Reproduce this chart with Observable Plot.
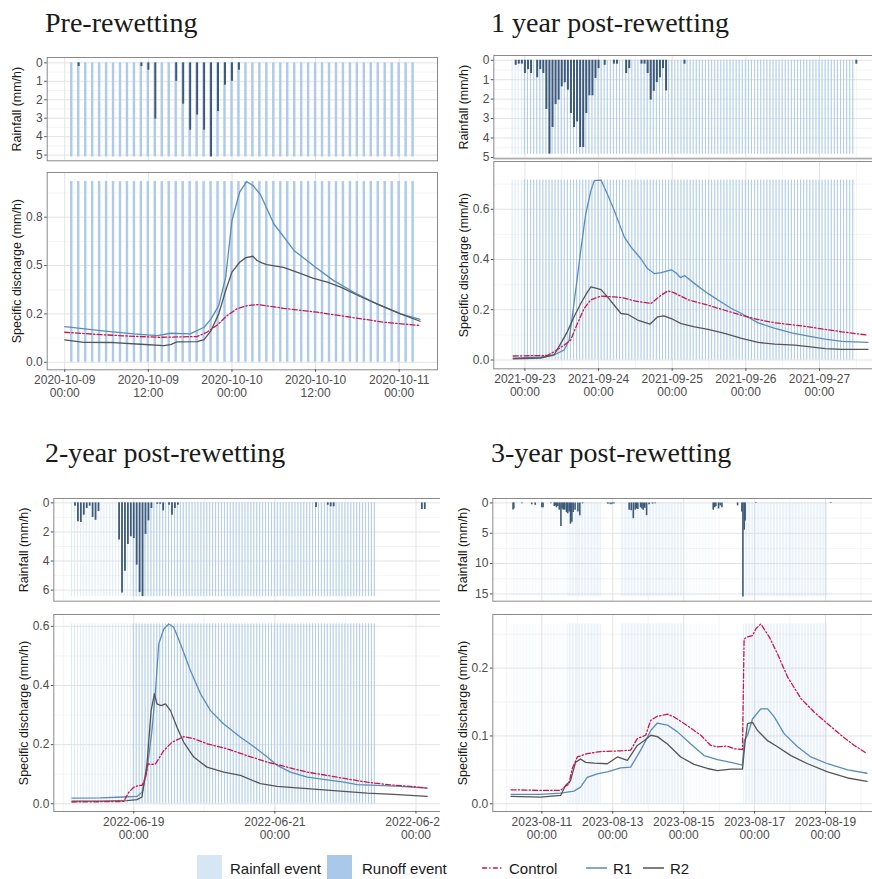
<!DOCTYPE html>
<html><head><meta charset="utf-8">
<script src="https://cdn.jsdelivr.net/npm/d3@7"></script>
<script src="https://cdn.jsdelivr.net/npm/@observablehq/plot@0.6"></script>
<style>
html,body{margin:0;padding:0;background:#fff;}
#root{position:relative;width:872px;height:879px;overflow:hidden;background:#fff;}
</style></head><body><div id="root"></div>
<script>
// ---------- Panel titles ----------
const panelTitles = ["Pre-rewetting", "1 year post-rewetting", "2-year post-rewetting", "3-year post-rewetting"];
const seriesNames = ["Control", "R1", "R2"];
const legendEvents = ["Rainfall event", "Runoff event"];

// ---------- Panel 1 (hours from 2020-10-09 00:00) ----------
const p1Anchor = "2020-10-09T00:00:00Z";
const p1RainH = [2, 11, 12, 13, 16, 17, 18, 19, 20, 21, 22, 23, 24, 25];
const p1RainMM = [0.2, 0.2, 0.4, 3.05, 1.0, 2.24, 3.65, 2.83, 3.65, 5.1, 2.64, 1.21, 1.0, 0.4];
const p1R1H = [0, 5.1, 9.9, 13.3, 15.2, 18, 20, 21, 22.1, 23.1, 24, 25.1, 26.1, 27, 28.1, 30, 32.9, 36, 38.6, 41.5, 44.8, 48.2, 51];
const p1R1Q = [0.184, 0.164, 0.147, 0.138, 0.15, 0.147, 0.181, 0.224, 0.293, 0.44, 0.733, 0.879, 0.934, 0.914, 0.866, 0.716, 0.578, 0.491, 0.422, 0.362, 0.302, 0.25, 0.222];
const p1R2H = [0, 2.7, 7, 10.9, 14.2, 15.2, 16.1, 19, 20, 21, 22.1, 23.1, 24, 25.1, 26, 27, 27.6, 28.3, 29, 31.4, 33.8, 35.7, 37.7, 39.6, 42.4, 44.8, 48.2, 51];
const p1R2Q = [0.116, 0.103, 0.102, 0.093, 0.086, 0.091, 0.105, 0.107, 0.117, 0.164, 0.25, 0.371, 0.466, 0.517, 0.541, 0.548, 0.526, 0.514, 0.505, 0.49, 0.46, 0.434, 0.414, 0.388, 0.34, 0.302, 0.25, 0.212];
const p1CtlH = [0, 5.1, 9.9, 13.7, 19, 20.4, 21.9, 23.3, 24.7, 26.2, 27.8, 31.4, 36.2, 41, 45.8, 51];
const p1CtlQ = [0.155, 0.143, 0.134, 0.129, 0.133, 0.155, 0.193, 0.241, 0.276, 0.293, 0.298, 0.279, 0.259, 0.233, 0.207, 0.19];
const p1RainEvents = [[1, 50]];
const p1RunoffEvents = [[1, 50]];
const p1XTicks = [0, 12, 24, 36, 48];
const p1XMinor = [6, 18, 30, 42];
const p1RainTicks = [0, 1, 2, 3, 4, 5];
const p1RainLabels = ["0", "1", "2", "3", "4", "5"];
const p1RainMinor = [0.5, 1.5, 2.5, 3.5, 4.5];
const p1QTicks = [0, 0.25, 0.5, 0.75];
const p1QLabels = ["0.0", "0.2", "0.5", "0.8"];
const p1QMinor = [0.125, 0.375, 0.625, 0.875];

// ---------- Panel 2 (hours from 2021-09-23 00:00) ----------
const p2Anchor = "2021-09-23T00:00:00Z";
const p2RainH = [-3, -2, -1, 0, 1, 2, 4, 5, 6, 7, 8, 9, 10, 11, 12, 13, 14, 15, 16, 17, 18, 19, 20, 21, 22, 23, 24, 26, 29, 30, 33, 34, 38, 39, 40, 41, 42, 43, 44, 45, 46, 52, 108];
const p2RainMM = [0.26, 0.2, 0.2, 0.68, 0.48, 0.68, 0.9, 0.48, 0.68, 2.53, 4.83, 3.46, 2.28, 2.05, 1.37, 1.16, 1.54, 2.74, 3.46, 3.17, 4.49, 4.49, 2.74, 1.83, 1.83, 0.94, 0.43, 0.26, 0.2, 0.2, 0.68, 0.43, 0.2, 0.2, 0.68, 2.05, 1.6, 1.15, 0.9, 0.43, 1.58, 0.2, 0.2];
const p2R1H = [-3.8, 5.1, 9.5, 12.8, 14.4, 16, 18.2, 19.8, 21.5, 22.6, 24.8, 26.9, 29.1, 32.4, 34.6, 37.8, 40, 42.2, 44.4, 47.7, 49.3, 50.7, 52, 55.3, 59.7, 65.1, 67.3, 70.6, 76, 81.5, 86.9, 92.4, 97.8, 103.3, 111.8];
const p2R1Q = [0.007, 0.011, 0.02, 0.04, 0.079, 0.225, 0.436, 0.58, 0.674, 0.714, 0.716, 0.66, 0.595, 0.489, 0.449, 0.403, 0.363, 0.344, 0.348, 0.359, 0.346, 0.328, 0.336, 0.304, 0.264, 0.222, 0.205, 0.185, 0.148, 0.126, 0.108, 0.095, 0.083, 0.074, 0.07];
const p2R2H = [-3.8, 5.1, 9.5, 11.7, 13.8, 16, 18.2, 20.4, 21.5, 23.7, 24.8, 26.9, 29.1, 31.3, 33.5, 36.7, 40.8, 43.3, 45.3, 47.7, 50.9, 55.3, 59.7, 65.1, 70.6, 76, 81.5, 88, 92.4, 97.8, 103.3, 111.8];
const p2R2Q = [0.005, 0.008, 0.02, 0.066, 0.112, 0.172, 0.225, 0.271, 0.291, 0.284, 0.28, 0.251, 0.218, 0.185, 0.182, 0.159, 0.143, 0.172, 0.176, 0.165, 0.145, 0.132, 0.122, 0.106, 0.086, 0.07, 0.063, 0.059, 0.053, 0.045, 0.042, 0.042];
const p2CtlH = [-3.8, 7.3, 9.5, 12.8, 14.9, 17.1, 19.3, 21.5, 24.8, 29.1, 31.8, 35.7, 41.1, 44.4, 46.6, 48.7, 53.1, 59.7, 65.1, 70.6, 76, 81.5, 88, 92.4, 97.8, 103.3, 111.8];
const p2CtlQ = [0.016, 0.018, 0.033, 0.059, 0.079, 0.145, 0.205, 0.24, 0.254, 0.251, 0.248, 0.235, 0.225, 0.258, 0.275, 0.267, 0.24, 0.218, 0.198, 0.178, 0.161, 0.148, 0.139, 0.132, 0.122, 0.112, 0.099];
const p2RainEvents = [[-4, 107]];
const p2RunoffEvents = [[0, 107]];
const p2XTicks = [0, 24, 48, 72, 96];
const p2XMinor = [12, 36, 60, 84, 108];
const p2RainTicks = [0, 1, 2, 3, 4, 5];
const p2RainLabels = ["0", "1", "2", "3", "4", "5"];
const p2RainMinor = [0.5, 1.5, 2.5, 3.5, 4.5];
const p2QTicks = [0, 0.2, 0.4, 0.6];
const p2QLabels = ["0.0", "0.2", "0.4", "0.6"];
const p2QMinor = [0.1, 0.3, 0.5, 0.7];

// ---------- Panel 3 (hours from 2022-06-19 00:00) ----------
const p3Anchor = "2022-06-19T00:00:00Z";
const p3RainH = [-20, -19, -18, -17, -16, -15, -14, -13, -12, -5, -4, -3, -2, -1, 0, 1, 2, 3, 4, 5, 6, 8, 9, 10, 12, 13, 14, 15, 62, 66, 67, 68, 98, 99];
const p3RainMM = [0.23, 1.3, 1.35, 0.85, 0.39, 0.23, 1.0, 1.2, 0.6, 2.56, 6.2, 4.7, 2.86, 2.33, 2.45, 4.28, 6.16, 6.45, 2.17, 1.24, 0.39, 0.1, 0.1, 0.55, 0.16, 0.85, 0.39, 0.16, 0.32, 0.16, 0.27, 0.27, 0.46, 0.46];
const p3R1H = [-21, -11.3, -3.4, 1.1, 2.8, 4.5, 6.2, 7.4, 8.5, 10.2, 11.9, 13.6, 15.9, 19.3, 22.7, 26.1, 30.6, 36.3, 40.8, 45.4, 48.8, 53.3, 59, 65.8, 71.4, 76, 82.8, 90.7, 99.8];
const p3R1Q = [0.019, 0.02, 0.023, 0.025, 0.039, 0.113, 0.248, 0.383, 0.54, 0.591, 0.608, 0.597, 0.54, 0.45, 0.372, 0.315, 0.27, 0.225, 0.194, 0.158, 0.13, 0.107, 0.09, 0.081, 0.073, 0.065, 0.062, 0.059, 0.053];
const p3R2H = [-21, -11.3, -2.3, 1.1, 2.8, 4.5, 5.9, 7, 7.9, 9.3, 10.8, 12.5, 14.7, 17, 20.4, 24.9, 30.6, 36.3, 43.1, 48.8, 56.7, 64.6, 71.4, 79.4, 88.4, 99.8];
const p3R2Q = [0.009, 0.009, 0.011, 0.014, 0.023, 0.135, 0.315, 0.372, 0.338, 0.332, 0.338, 0.315, 0.259, 0.208, 0.158, 0.124, 0.107, 0.096, 0.068, 0.059, 0.053, 0.047, 0.042, 0.036, 0.032, 0.025];
const p3CtlH = [-21, -11.3, -3.4, -1.7, 0, 1.7, 2.8, 4, 4.8, 6.2, 7.4, 10.2, 13, 17, 20.4, 24.9, 31.7, 38.5, 45.4, 52.2, 59, 65.8, 72.6, 79.4, 87.3, 94.1, 99.8];
const p3CtlQ = [0.006, 0.007, 0.008, 0.039, 0.056, 0.062, 0.062, 0.09, 0.135, 0.133, 0.135, 0.18, 0.208, 0.227, 0.22, 0.203, 0.186, 0.163, 0.141, 0.124, 0.107, 0.096, 0.084, 0.073, 0.064, 0.059, 0.053];
const p3RainEvents = [[-21, 82]];
const p3RunoffEvents = [[0, 82]];
const p3XTicks = [0, 48, 96];
const p3XMinor = [-24, 24, 72];
const p3RainTicks = [0, 2, 4, 6];
const p3RainLabels = ["0", "2", "4", "6"];
const p3RainMinor = [1, 3, 5];
const p3QTicks = [0, 0.2, 0.4, 0.6];
const p3QLabels = ["0.0", "0.2", "0.4", "0.6"];
const p3QMinor = [0.1, 0.3, 0.5];

// ---------- Panel 4 (hours from 2023-08-11 00:00) ----------
const p4Anchor = "2023-08-11T00:00:00Z";
const p4RainH = [-19.5, -19, -13.5, -6.8, -4.5, 0, 0.8, 6.1, 8.4, 9.2, 9.9, 10.8, 11.8, 12.9, 13.7, 14.5, 15.5, 16.7, 17.5, 18.5, 19.4, 20.3, 21.2, 22.5, 24.4, 25.7, 27.5, 44.5, 45.5, 46.8, 48, 49, 59.1, 60.5, 61.9, 63.2, 64.1, 65, 66.8, 67.7, 68.6, 69.7, 70.9, 72.6, 74.9, 76.7, 116, 117, 117.8, 119.6, 120.7, 121.9, 132.5, 135.4, 136.1, 137, 137.6, 144.8, 195.6];
const p4RainMM = [1.15, 1.0, 0.15, 0.3, 0.4, 0.8, 0.8, 0.15, 0.6, 0.5, 0.8, 0.6, 1.2, 3.9, 1.0, 1.2, 1.2, 1.6, 1.8, 1.5, 3.5, 3.2, 1.6, 1.2, 1.5, 2.1, 0.15, 0.2, 0.2, 0.3, 0.2, 0.15, 1.2, 1.3, 2.6, 1.2, 1.0, 1.1, 0.8, 1.0, 1.2, 0.9, 2.1, 0.3, 0.2, 0.15, 1.2, 0.8, 0.6, 1.0, 0.5, 0.8, 0.5, 1.5, 15.5, 4.5, 3.0, 0.1, 0.1];
const p4R1H = [-20.8, -0.9, 12.7, 17.2, 21.7, 26.2, 30.7, 37.5, 44.3, 53.3, 60.1, 66.9, 70.3, 73.7, 78.2, 85, 91.8, 100.8, 109.8, 118.9, 127.9, 135.8, 137, 139.2, 142.6, 148.2, 152.8, 157.3, 164.1, 173.1, 182.1, 193.4, 207, 220.1];
const p4R1Q = [0.0138, 0.0138, 0.0157, 0.0172, 0.0187, 0.0246, 0.039, 0.044, 0.047, 0.053, 0.054, 0.079, 0.093, 0.108, 0.119, 0.116, 0.106, 0.088, 0.071, 0.065, 0.061, 0.057, 0.093, 0.101, 0.125, 0.14, 0.14, 0.128, 0.103, 0.084, 0.069, 0.059, 0.05, 0.045];
const p4R2H = [-20.8, -0.9, 12.7, 16, 19.4, 22.8, 26.2, 29.6, 35.3, 44.3, 51.1, 57.9, 64.6, 69.2, 73.7, 78.2, 85, 94, 103, 112.1, 118.9, 127.9, 135.8, 137.4, 139.2, 142.6, 146, 152.8, 159.5, 168.6, 179.9, 193.4, 207, 220.1];
const p4R2Q = [0.0108, 0.0098, 0.0123, 0.027, 0.034, 0.061, 0.066, 0.061, 0.06, 0.059, 0.069, 0.064, 0.086, 0.093, 0.101, 0.099, 0.088, 0.069, 0.058, 0.052, 0.049, 0.051, 0.051, 0.088, 0.118, 0.12, 0.108, 0.093, 0.084, 0.071, 0.059, 0.047, 0.038, 0.033];
const p4CtlH = [-20.8, -0.9, 12.7, 15.4, 18.3, 20.6, 24, 30.7, 39.8, 53.3, 60.1, 64.6, 70.3, 73.7, 78.2, 85, 89.5, 98.5, 107.6, 114.3, 118.9, 125.6, 130.2, 135.8, 136.9, 139.2, 142.6, 144.9, 148.2, 153.9, 159.5, 166.3, 175.4, 184.4, 193.4, 202.5, 211.5, 220.1];
const p4CtlQ = [0.0206, 0.0197, 0.0197, 0.025, 0.029, 0.052, 0.069, 0.074, 0.077, 0.078, 0.079, 0.096, 0.101, 0.123, 0.129, 0.132, 0.128, 0.115, 0.101, 0.086, 0.084, 0.085, 0.081, 0.080, 0.243, 0.246, 0.248, 0.258, 0.265, 0.246, 0.221, 0.187, 0.155, 0.135, 0.118, 0.101, 0.086, 0.074];
const p4RainEvents = [[-20, 40], [54, 118], [137, 193]];
const p4RunoffEvents = [[18, 40], [54, 95], [137, 193]];
const p4XTicks = [0, 48, 96, 144, 192];
const p4XMinor = [-24, 24, 72, 120, 168, 216];
const p4RainTicks = [0, 5, 10, 15];
const p4RainLabels = ["0", "5", "10", "15"];
const p4RainMinor = [2.5, 7.5, 12.5];
const p4QTicks = [0, 0.1, 0.2];
const p4QLabels = ["0.0", "0.1", "0.2"];
const p4QMinor = [0.05, 0.15, 0.25];

// ---------- Styling ----------
const FONT = "'Liberation Sans', Arial, Helvetica, sans-serif";
const COL = {Control: "#c8174b", R1: "#5b8cb7", R2: "#555555", bar: "#3d5a7b",
  rainEv: "#d6e6f5", runEv: "#a9c8ea", grid: "#e3e3e3", gridMinor: "#f1f1f1",
  frame: "#8a8a8a", tick: "#4d4d4d"};
const DASH = {Control: "5,2.2,1.4,2.2", R1: null, R2: null};

const root = document.getElementById("root");
function place(svg, left, top) {
  svg.style.position = "absolute";
  svg.style.left = left + "px";
  svg.style.top = top + "px";
  svg.style.maxWidth = "none";
  root.appendChild(svg);
}
function timeOf(anchor) { const t0 = Date.parse(anchor); return h => new Date(t0 + h * 3600e3); }
function stripeRows(events, T, w) {
  const out = [];
  for (const [s, e] of events) for (let h = s; h <= e; h++) out.push({x1: T(h - w / 2), x2: T(h + w / 2)});
  return out;
}
function grids(xMajor, xMinor, yMajor, yMinor) {
  return [
    Plot.gridX(xMinor, {stroke: COL.gridMinor, strokeOpacity: 1, strokeWidth: 0.8}),
    Plot.gridY(yMinor, {stroke: COL.gridMinor, strokeOpacity: 1, strokeWidth: 0.8}),
    Plot.gridX(xMajor, {stroke: COL.grid, strokeOpacity: 1, strokeWidth: 1}),
    Plot.gridY(yMajor, {stroke: COL.grid, strokeOpacity: 1, strokeWidth: 1})
  ];
}
function yAxis(ticks, labels, title) {
  const m = new Map(ticks.map((t, i) => [t, labels[i]]));
  return [
    Plot.axisY(ticks, {tickFormat: d => m.get(d), tickSize: 2.5, tickPadding: 2, fontSize: 12, label: null}),
    Plot.text([title], {text: d => d, frameAnchor: "left", rotate: -90, dx: -30, textAnchor: "middle", lineAnchor: "middle", fontSize: 12.5, fill: "#1a1a1a"})
  ];
}

function drawPanel(P) {
  const T = timeOf(P.anchor);
  const xDomain = P.xDomain.map(T);
  const xMajor = P.xTicks.map(T), xMinor = P.xMinor.map(T);
  const rain = P.rainH.map((h, i) => ({t: T(h), v: P.rainMM[i]}));
  const maxRain = d3.max(P.rainMM);
  const lines = P.series.map(s => ({name: s.name, rows: s.h.map((h, i) => ({t: T(h), q: s.q[i]}))}));
  const maxQ = d3.max(P.series.flatMap(s => s.q));
  const rainStr = stripeRows(P.rainEvents, T, P.stripeW);
  const runStr = stripeRows(P.runoffEvents, T, P.stripeW);
  const style = {background: "#fff", fontFamily: FONT, fontSize: "12px", color: COL.tick, overflow: "visible"};
  const mr = 2, mt = 2, mb = 2;

  // Discharge (bottom) — drawn first so the rainfall panel's labels stay visible
  const db = P.disBox, dml = db.l - P.x0, dmb = 44;
  const disSvg = Plot.plot({
    width: db.r - db.l + dml + mr, height: db.b - db.t + mt + dmb,
    marginLeft: dml, marginRight: mr, marginTop: mt, marginBottom: dmb,
    x: {type: "utc", domain: xDomain},
    y: {domain: P.qDomain},
    style,
    marks: [
      ...grids(xMajor, xMinor, P.qTicks, P.qMinor),
      Plot.rect(rainStr, {x1: "x1", x2: "x2", y1: () => 0, y2: () => maxQ, fill: COL.rainEv, fillOpacity: P.stripeOp}),
      Plot.rect(runStr, {x1: "x1", x2: "x2", y1: () => 0, y2: () => maxQ, fill: COL.runEv, fillOpacity: P.stripeOp}),
      ...lines.map(s => Plot.line(s.rows, {x: "t", y: "q", stroke: COL[s.name], strokeWidth: 1.3,
        strokeDasharray: DASH[s.name] || undefined, strokeLinejoin: "round"})),
      Plot.frame({stroke: COL.frame}),
      Plot.axisX(xMajor, {tickFormat: d3.utcFormat("%Y-%m-%d\n%H:%M"), tickSize: 2.5, tickPadding: 2,
        fontSize: 12, lineHeight: 1.12, label: null}),
      ...yAxis(P.qTicks, P.qLabels, "Specific discharge (mm/h)")
    ]
  });
  place(disSvg, db.l - dml, db.t - mt);

  // Rainfall (top, inverted)
  const rb = P.rainBox, ml = rb.l - P.x0;
  const rainSvg = Plot.plot({
    width: rb.r - rb.l + ml + mr, height: rb.b - rb.t + mt + mb,
    marginLeft: ml, marginRight: mr, marginTop: mt, marginBottom: mb,
    x: {type: "utc", domain: xDomain, axis: null},
    y: {domain: P.rainDomain, reverse: true},
    style,
    marks: [
      ...grids(xMajor, xMinor, P.rainTicks, P.rainMinor),
      Plot.rect(rainStr, {x1: "x1", x2: "x2", y1: () => 0, y2: () => maxRain, fill: COL.rainEv, fillOpacity: P.stripeOp}),
      Plot.rect(runStr, {x1: "x1", x2: "x2", y1: () => 0, y2: () => maxRain, fill: COL.runEv, fillOpacity: P.stripeOp}),
      Plot.ruleX(rain, {x: "t", y1: () => 0, y2: "v", stroke: COL.bar, strokeWidth: P.barW}),
      Plot.frame({stroke: COL.frame}),
      ...yAxis(P.rainTicks, P.rainLabels, "Rainfall (mm/h)")
    ]
  });
  place(rainSvg, rb.l - ml, rb.t - mt);
}

const panels = [
  {anchor: p1Anchor, x0: 0, xDomain: [-2.52, 53.5], xTicks: p1XTicks, xMinor: p1XMinor,
   rainH: p1RainH, rainMM: p1RainMM, rainEvents: p1RainEvents, runoffEvents: p1RunoffEvents,
   series: [{name: "R1", h: p1R1H, q: p1R1Q}, {name: "R2", h: p1R2H, q: p1R2Q}, {name: "Control", h: p1CtlH, q: p1CtlQ}],
   rainBox: {l: 46.7, r: 437, t: 56.7, b: 160}, disBox: {l: 46.7, r: 437, t: 172, b: 369.3},
   rainDomain: [-0.29, 5.31], rainTicks: p1RainTicks, rainLabels: p1RainLabels, rainMinor: p1RainMinor,
   qDomain: [-0.039, 0.981], qTicks: p1QTicks, qLabels: p1QLabels, qMinor: p1QMinor,
   stripeW: 1 / 3, barW: 2, stripeOp: 0.9},
  {anchor: p2Anchor, x0: 440, xDomain: [-10.14, 125], xTicks: p2XTicks, xMinor: p2XMinor,
   rainH: p2RainH, rainMM: p2RainMM, rainEvents: p2RainEvents, runoffEvents: p2RunoffEvents,
   series: [{name: "R1", h: p2R1H, q: p2R1Q}, {name: "R2", h: p2R2H, q: p2R2Q}, {name: "Control", h: p2CtlH, q: p2CtlQ}],
   rainBox: {l: 493.3, r: 908, t: 55, b: 158.3}, disBox: {l: 493.3, r: 908, t: 161, b: 368.3},
   rainDomain: [-0.245, 5.07], rainTicks: p2RainTicks, rainLabels: p2RainLabels, rainMinor: p2RainMinor,
   qDomain: [-0.035, 0.79], qTicks: p2QTicks, qLabels: p2QLabels, qMinor: p2QMinor,
   stripeW: 1 / 3, barW: 2, stripeOp: 0.85},
  {anchor: p3Anchor, x0: 0, xDomain: [-27.2, 109.2], xTicks: p3XTicks, xMinor: p3XMinor,
   rainH: p3RainH, rainMM: p3RainMM, rainEvents: p3RainEvents, runoffEvents: p3RunoffEvents,
   series: [{name: "R1", h: p3R1H, q: p3R1Q}, {name: "R2", h: p3R2H, q: p3R2Q}, {name: "Control", h: p3CtlH, q: p3CtlQ}],
   rainBox: {l: 53.3, r: 454.3, t: 498.3, b: 601}, disBox: {l: 53.3, r: 454.3, t: 614, b: 811},
   rainDomain: [-0.3, 6.76], rainTicks: p3RainTicks, rainLabels: p3RainLabels, rainMinor: p3RainMinor,
   qDomain: [-0.026, 0.64], qTicks: p3QTicks, qLabels: p3QLabels, qMinor: p3QMinor,
   stripeW: 1 / 3, barW: 1.8, stripeOp: 0.85},
  {anchor: p4Anchor, x0: 440, xDomain: [-33.2, 236], xTicks: p4XTicks, xMinor: p4XMinor,
   rainH: p4RainH, rainMM: p4RainMM, rainEvents: p4RainEvents, runoffEvents: p4RunoffEvents,
   series: [{name: "R1", h: p4R1H, q: p4R1Q}, {name: "R2", h: p4R2H, q: p4R2Q}, {name: "Control", h: p4CtlH, q: p4CtlQ}],
   rainBox: {l: 492.3, r: 890, t: 498.3, b: 601}, disBox: {l: 492.3, r: 890, t: 614, b: 811},
   rainDomain: [-0.725, 16.2], rainTicks: p4RainTicks, rainLabels: p4RainLabels, rainMinor: p4RainMinor,
   qDomain: [-0.0114, 0.279], qTicks: p4QTicks, qLabels: p4QLabels, qMinor: p4QMinor,
   stripeW: 1 / 3, barW: 1.6, stripeOp: 0.32}
];
panels.forEach(drawPanel);

// ---------- Titles and legend (overlay) ----------
const ov = d3.create("svg").attr("width", 872).attr("height", 879)
  .style("position", "absolute").style("left", "0px").style("top", "0px").style("pointer-events", "none");
const titlePos = [[45, 32], [491, 32], [45, 462], [491, 462]];
panelTitles.forEach((t, i) => ov.append("text").attr("x", titlePos[i][0]).attr("y", titlePos[i][1])
  .attr("font-family", "'Liberation Serif', 'Times New Roman', serif").attr("font-size", 28).attr("fill", "#1a1a1a").text(t));
const lg = ov.append("g").attr("font-family", FONT).attr("font-size", 15).attr("fill", "#1a1a1a");
lg.append("rect").attr("x", 197).attr("y", 855).attr("width", 25).attr("height", 24).attr("fill", COL.rainEv);
lg.append("text").attr("x", 230).attr("y", 868).attr("dominant-baseline", "central").text(legendEvents[0]);
lg.append("rect").attr("x", 327).attr("y", 855).attr("width", 25).attr("height", 24).attr("fill", COL.runEv);
lg.append("text").attr("x", 362).attr("y", 868).attr("dominant-baseline", "central").text(legendEvents[1]);
const lineKeys = [[482, seriesNames[0]], [586, seriesNames[1]], [643, seriesNames[2]]];
lineKeys.forEach(([x, name]) => {
  lg.append("line").attr("x1", x).attr("x2", x + 21).attr("y1", 868).attr("y2", 868)
    .attr("stroke", COL[name]).attr("stroke-width", 1.5).attr("stroke-dasharray", DASH[name] || null);
  lg.append("text").attr("x", x + 27).attr("y", 868).attr("dominant-baseline", "central").text(name);
});
root.appendChild(ov.node());
</script></body></html>
